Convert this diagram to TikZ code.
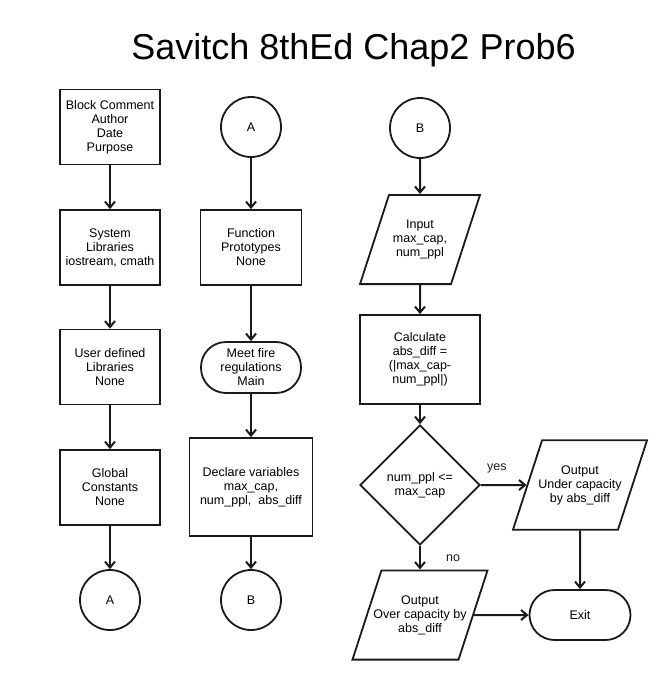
\documentclass[tikz,border=0pt]{standalone}
\usepackage{fontspec}
\setmainfont{Liberation Sans}
\usepackage{tikz}
\usetikzlibrary{arrows.meta,shapes.geometric}
\definecolor{ink}{HTML}{1A1A1A}

\begin{document}
\begin{tikzpicture}[x=1pt,y=-1pt,
  every node/.style={font=\fontsize{12.5}{14}\selectfont,align=center,inner sep=2pt},
  box/.style={draw=ink,line width=1.8pt,minimum width=100pt,minimum height=75pt},
  conn/.style={draw=ink,line width=1.8pt,circle,minimum size=60pt},
  term/.style={draw=ink,line width=1.8pt,rounded corners=25pt,
    minimum width=100pt,minimum height=50pt},
  io/.style={draw=ink,line width=1.8pt,trapezium,trapezium left angle=72,
    trapezium right angle=108,trapezium stretches body=true,
    inner xsep=-8pt,inner ysep=25pt},
  decision/.style={draw=ink,line width=1.8pt,diamond,
    minimum width=120pt,minimum height=120pt},
  arr/.style={ink,line width=2pt,-{Straight Barb[length=6pt,width=10pt]}}
]
\useasboundingbox (0,0) rectangle (665,680);

\node[font=\fontsize{36}{40}\selectfont] (title) at (353.5,50) {Savitch 8thEd Chap2 Prob6};

\node[box] (cmt) at (110,127) {Block Comment\\Author\\Date\\Purpose};
\node[box] (sys) at (110,247.5) {System\\Libraries\\iostream, cmath};
\node[box] (usr) at (110,367) {User defined\\Libraries\\None};
\node[box] (glb) at (110,487.5) {Global\\Constants\\None};
\node[conn] (outA) at (110,600) {A};

\node[conn] (inA) at (251,127) {A};
\node[box,minimum width=101pt] (proto) at (251,247.5) {Function\\Prototypes\\None};
\node[term,minimum height=51pt] (main) at (251,367.5) {Meet fire\\regulations\\Main};
\node[box,minimum width=123pt,minimum height=98pt] (vars) at (251,487)
  {Declare variables\\max\_cap,\\num\_ppl,\ \ abs\_diff};
\node[conn] (outB) at (251,600) {B};

\node[conn] (inB) at (420,128) {B};
\node[io,minimum width=120pt] (input) at (420,239.5)
  {Input\\max\_cap,\\num\_ppl};
\node[box,minimum width=120pt,minimum height=89pt] (calc) at (420,359.5)
  {Calculate\\abs\_diff =\\(|max\_cap-\\num\_ppl|)};
\node[decision] (cmp) at (420,485) {num\_ppl <=\\max\_cap};
\node[io,minimum width=134pt] (under) at (580,485)
  {Output\\Under capacity\\by abs\_diff};
\node[io,minimum width=134pt] (over) at (420,615)
  {Output\\Over capacity by\\abs\_diff};
\node[term,minimum width=101pt] (exit) at (580,615) {Exit};

\draw[arr] (cmt) -- (sys);
\draw[arr] (sys) -- (usr);
\draw[arr] (usr) -- (glb);
\draw[arr] (glb) -- (outA);

\draw[arr] (inA) -- (proto);
\draw[arr] (proto) -- (main);
\draw[arr] (main) -- (vars);
\draw[arr] (vars) -- (outB);

\draw[arr] (inB) -- (input);
\draw[arr] (input) -- (calc);
\draw[arr] (calc) -- (cmp);
\draw[arr] (cmp) -- (under) node[pos=0.35,yshift=17pt] {yes};
\draw[arr] (cmp) -- (over) node[midway,xshift=33pt] {no};
\draw[arr] (under) -- (exit);
\draw[arr] (over) -- (exit);
\end{tikzpicture}
\end{document}
